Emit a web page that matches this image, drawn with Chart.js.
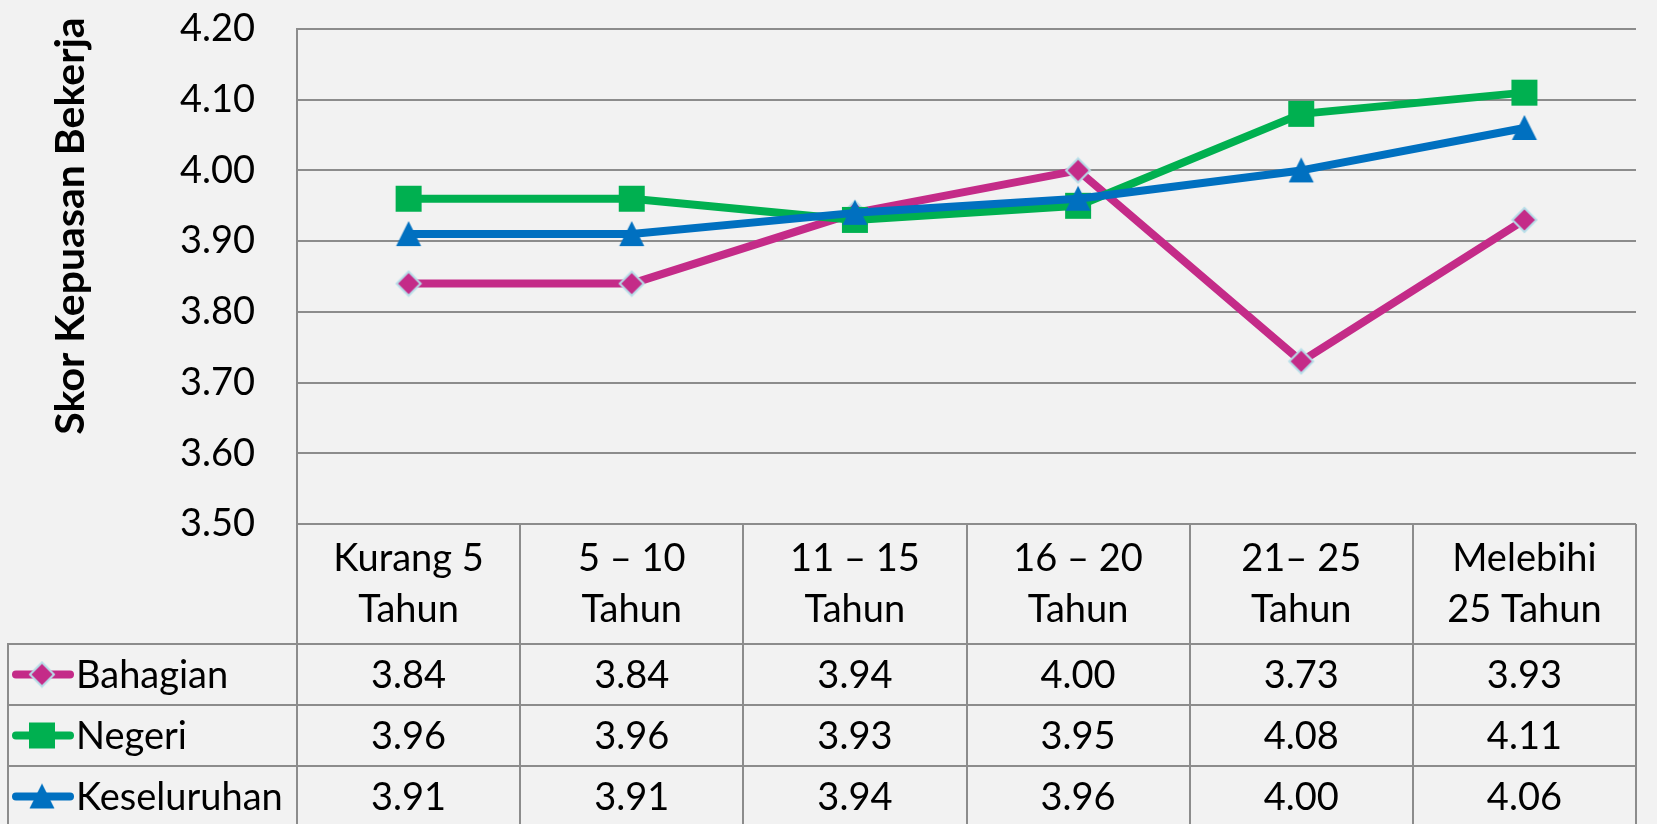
<!DOCTYPE html>
<html>
<head>
<meta charset="utf-8">
<script src="https://cdn.jsdelivr.net/npm/chart.js@4.4.1/dist/chart.umd.min.js"></script>
<style>
  body { margin: 0; background: #f2f2f2; }
  canvas { display: block; }
</style>
</head>
<body>
<canvas id="chart" width="1657" height="824"></canvas>
<script>
const categories = [
  ["Kurang 5", "Tahun"],
  ["5 – 10", "Tahun"],
  ["11 – 15", "Tahun"],
  ["16 – 20", "Tahun"],
  ["21– 25", "Tahun"],
  ["Melebihi", "25 Tahun"],
];
const seriesNames = ["Bahagian", "Negeri", "Keseluruhan"];
const bahagian = [3.84, 3.84, 3.94, 4.0, 3.73, 3.93];
const negeri = [3.96, 3.96, 3.93, 3.95, 4.08, 4.11];
const keseluruhan = [3.91, 3.91, 3.94, 3.96, 4.0, 4.06];
const yMin = 3.5;
const yMax = 4.2;
const yStep = 0.1;
const yTitle = "Skor Kepuasan Bekerja";

const gridColor = "#8c8c8c";
const font = "Lato";

// marker images, so the triangle can be as tall as it is wide (like Excel)
function makeMarker(kind, color) {
  const c = document.createElement("canvas");
  c.width = 28;
  c.height = 28;
  const g = c.getContext("2d");
  g.fillStyle = color;
  g.beginPath();
  if (kind == "diamond") {
    g.moveTo(14, 2);
    g.lineTo(26, 14);
    g.lineTo(14, 26);
    g.lineTo(2, 14);
    g.closePath();
    g.fill();
    g.strokeStyle = "#b7dee8";
    g.lineWidth = 2;
    g.stroke();
  } else if (kind == "square") {
    g.fillRect(1, 1, 26, 26);
  } else {
    g.moveTo(14, 1);
    g.lineTo(26.5, 26);
    g.lineTo(1.5, 26);
    g.closePath();
    g.fill();
  }
  return c;
}

const colors = ["#c42b88", "#00b050", "#0070c0"];
const markers = [
  makeMarker("diamond", colors[0]),
  makeMarker("square", colors[1]),
  makeMarker("triangle", colors[2]),
];
const values = [bahagian, negeri, keseluruhan];

const tablePlugin = {
  id: "dataTable",
  afterDraw(chart) {
    const ctx = chart.ctx;
    const area = chart.chartArea;
    const x = chart.scales.x;
    const n = categories.length;

    const edges = [area.left];
    for (let i = 0; i < n - 1; i++) {
      edges.push((x.getPixelForValue(i) + x.getPixelForValue(i + 1)) / 2);
    }
    edges.push(area.right);

    const headBottom = 644;
    const rowH = 61;
    const tableLeft = 8;

    ctx.save();
    ctx.strokeStyle = gridColor;
    ctx.lineWidth = 2;
    ctx.beginPath();
    edges.forEach((e) => {
      ctx.moveTo(Math.round(e), area.bottom);
      ctx.lineTo(Math.round(e), 824);
    });
    ctx.moveTo(tableLeft, headBottom);
    ctx.lineTo(tableLeft, 824);
    for (let r = 0; r < 3; r++) {
      const y = headBottom + r * rowH;
      ctx.moveTo(tableLeft - 1, y);
      ctx.lineTo(area.right + 1, y);
    }
    ctx.stroke();

    ctx.fillStyle = "#000";
    ctx.font = `38px ${font}`;
    ctx.textAlign = "center";
    ctx.textBaseline = "middle";
    categories.forEach((lines, i) => {
      const cx = x.getPixelForValue(i);
      ctx.fillText(lines[0], cx, 559);
      ctx.fillText(lines[1], cx, 610);
    });

    values.forEach((vals, r) => {
      const cy = headBottom + r * rowH + rowH / 2 + 1;
      ctx.textAlign = "center";
      vals.forEach((v, i) => {
        ctx.fillText(v.toFixed(2), x.getPixelForValue(i), cy);
      });

      // legend key
      ctx.strokeStyle = colors[r];
      ctx.lineWidth = 8;
      ctx.lineCap = "round";
      ctx.beginPath();
      ctx.moveTo(16, cy - 1);
      ctx.lineTo(70, cy - 1);
      ctx.stroke();
      const m = markers[r];
      ctx.drawImage(m, 42 - m.width / 2, cy - 1 - m.height / 2);
      ctx.textAlign = "left";
      ctx.fillText(seriesNames[r], 76, cy);
    });

    // y axis title
    ctx.translate(71, 226);
    ctx.rotate(-Math.PI / 2);
    ctx.font = `bold 41px ${font}`;
    ctx.textAlign = "center";
    ctx.fillText(yTitle, 0, 0);
    ctx.restore();
  },
};

const datasets = values.map((vals, i) => ({
  label: seriesNames[i],
  data: vals,
  borderColor: colors[i],
  backgroundColor: colors[i],
  borderWidth: 8,
  borderJoinStyle: "round",
  pointStyle: markers[i],
  pointRadius: 13,
  pointHoverRadius: 13,
  order: 2 - i,
  tension: 0,
}));

new Chart(document.getElementById("chart"), {
  type: "line",
  data: { labels: categories.map((c) => c.join(" ")), datasets: datasets },
  options: {
    responsive: false,
    animation: false,
    layout: { padding: { top: 29, right: 6, bottom: 300, left: 0 } },
    plugins: { legend: { display: false }, tooltip: { enabled: false } },
    scales: {
      x: { type: "category", display: false, offset: true },
      y: {
        min: yMin,
        max: yMax,
        afterFit: (s) => {
          s.width = 297;
          s.paddingTop = 0;
          s.paddingBottom = 0;
        },
        ticks: {
          stepSize: yStep,
          padding: 42,
          color: "#000",
          font: { family: font, size: 38 },
          callback: (v) => v.toFixed(2),
        },
        grid: { color: gridColor, lineWidth: 2, drawTicks: false },
        border: { display: true, color: gridColor, width: 2 },
      },
    },
  },
  plugins: [tablePlugin],
});
</script>
</body>
</html>
